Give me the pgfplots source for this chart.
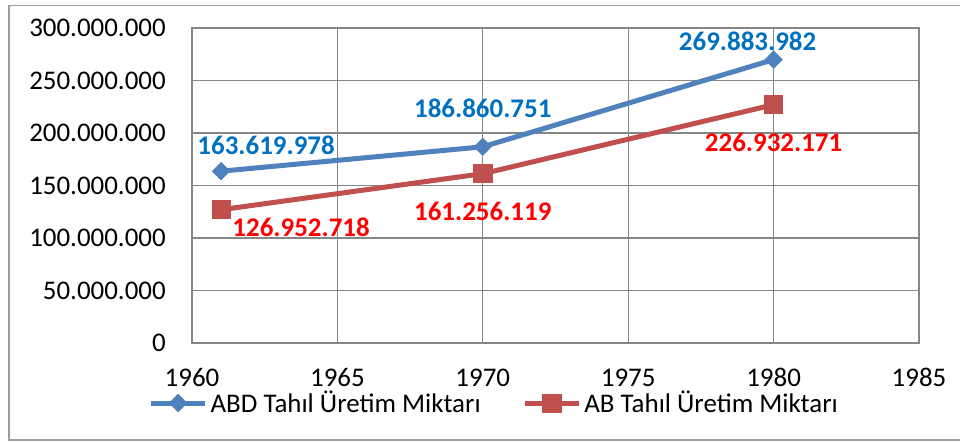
\documentclass[border=0pt]{standalone}
\usepackage{fontspec}
\setmainfont{Carlito}
\usepackage{pgfplots}
\pgfplotsset{compat=1.18}

\definecolor{abdblue}{RGB}{79,129,189}
\definecolor{abred}{RGB}{192,80,77}
\definecolor{lblblue}{RGB}{0,112,192}
\definecolor{lblred}{RGB}{255,0,0}
\definecolor{gridgray}{RGB}{134,134,134}

\newcommand{\bigf}{\fontsize{20.2}{23}\selectfont}

\begin{document}
\begin{tikzpicture}
% page = 960x442 px at 0.75pt per px, origin at lower left of plot area
\useasboundingbox (-144pt,-74.25pt) rectangle (576pt,257.25pt);
\draw[gridgray!80, line width=0.9pt] (600pt,253pt) -- (-137.25pt,253pt) -- (-137.25pt,-72.75pt) -- (600pt,-72.75pt);

\begin{axis}[
    at={(0,0)}, anchor=south west,
    scale only axis,
    width=545.25pt, height=236.25pt,
    xmin=1960, xmax=1985,
    ymin=0, ymax=300000000,
    scaled y ticks=false,
    xtick={1960,1965,1970,1975,1980,1985},
    xticklabels={1960,1965,1970,1975,1980,1985},
    ytick={0,50000000,100000000,150000000,200000000,250000000,300000000},
    yticklabels={0,50.000.000,100.000.000,150.000.000,200.000.000,250.000.000,300.000.000},
    major tick length=0pt,
    grid=major,
    grid style={gridgray, line width=1pt},
    axis line style={gridgray, line width=1pt},
    tick label style={font=\bigf, text=black},
    xticklabel style={anchor=center, yshift=-26pt},
    yticklabel style={anchor=east, inner sep=0pt, xshift=-19.5pt},
    legend columns=2,
    legend style={draw=none, fill=none, font=\bigf, anchor=west,
        at={(rel axis cs:-0.0605,-0.1905)}, inner sep=0pt,
        /tikz/every even column/.append style={column sep=29pt}},
    legend cell align=left,
    legend image code/.code={
        \draw[mark repeat=2, mark phase=2] plot coordinates {(0pt,0pt) (20.5pt,0pt) (41pt,0pt)};
    },
    clip=false,
]
\addplot[abdblue, line width=3.75pt, mark=square*,
    mark options={rotate=45, line width=0.5pt, fill=abdblue, draw=abdblue}, mark size=4.6pt]
    coordinates {(1961,163619978) (1970,186860751) (1980,269883982)};
\addlegendentry{ABD Tahıl Üretim Miktarı}
\addplot[abred, line width=3.75pt, mark=square*,
    mark options={line width=0.5pt, fill=abred, draw=abred}, mark size=6.8pt]
    coordinates {(1961,126952718) (1970,161256119) (1980,226932171)};
\addlegendentry{AB Tahıl Üretim Miktarı}

\tikzset{lbl/.style={font=\bigf\bfseries, inner sep=0pt}}
\node[lbl, text=lblblue, xshift=33.75pt, yshift=19.5pt] at (axis cs:1961,163619978) {163.619.978};
\node[lbl, text=lblblue, yshift=29pt] at (axis cs:1970,186860751) {186.860.751};
\node[lbl, text=lblblue, xshift=-19.5pt, yshift=13.5pt] at (axis cs:1980,269883982) {269.883.982};
\node[lbl, text=lblred, xshift=60pt, yshift=-13.5pt] at (axis cs:1961,126952718) {126.952.718};
\node[lbl, text=lblred, yshift=-28.5pt] at (axis cs:1970,161256119) {161.256.119};
\node[lbl, text=lblred, yshift=-28.5pt] at (axis cs:1980,226932171) {226.932.171};
\end{axis}
\end{tikzpicture}
\end{document}
